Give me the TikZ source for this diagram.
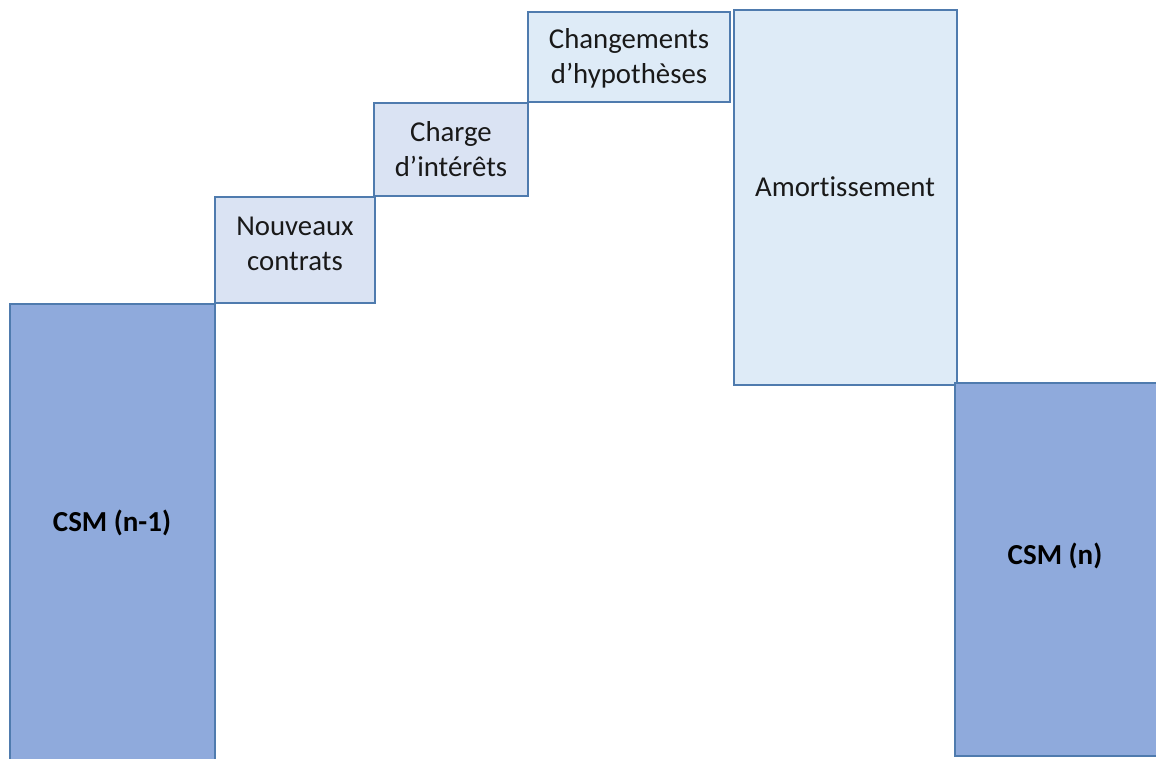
\documentclass[tikz,border=0pt]{standalone}
\usepackage{fontspec}
\setmainfont{Carlito}[Ligatures={NoCommon}]
\definecolor{csmfill}{HTML}{8FAADC}
\definecolor{stepfill}{HTML}{DAE3F3}
\definecolor{topfill}{HTML}{DEEBF7}
\definecolor{edge}{HTML}{4F7BAE}
\tikzset{
  bar/.style={draw=edge, line width=1.8pt},
  csmbar/.style={bar, fill=csmfill},
  stepbar/.style={bar, fill=stepfill},
  topbar/.style={bar, fill=topfill},
  lbl/.style={align=center, font=\fontsize{28.8}{35}\selectfont, text=black!90},
  csmlbl/.style={align=center, font=\fontsize{29}{34}\selectfont\bfseries, text=black}
}
\begin{document}
\begin{tikzpicture}[x=1pt,y=-1pt]
\useasboundingbox (0,0) rectangle (1156,758);
% opening balance
\path[csmbar] (10,304) rectangle (215,765);
\node[csmlbl] (open) at (112,523) {CSM (n-1)};
% increases
\path[stepbar] (215,197) rectangle (375,303);
\node[lbl] (nouv) at (295,244) {Nouveaux\\contrats};
\path[stepbar] (374,103) rectangle (528,196);
\node[lbl] (charge) at (451,149) {Charge\\d’intérêts};
\path[topbar] (528,12) rectangle (730,102);
\node[lbl] (hyp) at (629,58) {Changements\\d’hypothèses};
% release
\path[topbar] (734,10) rectangle (957,385);
\node[lbl] (amort) at (845,187) {Amortissement};
% closing balance
\path[csmbar] (955,383) rectangle (1165,756);
\node[csmlbl] (close) at (1055,556) {CSM (n)};
\end{tikzpicture}
\end{document}
